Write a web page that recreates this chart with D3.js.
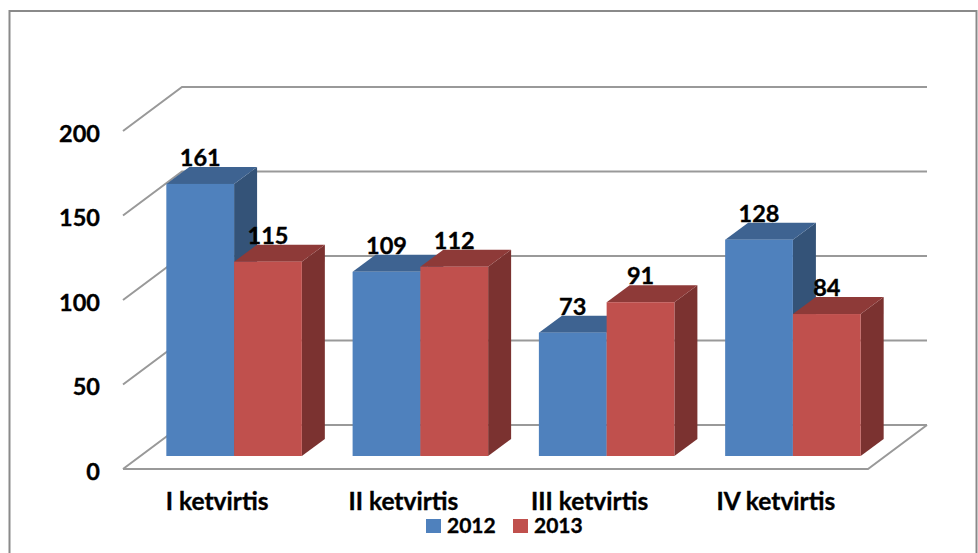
<!DOCTYPE html>
<html lang="lt">
<head>
  <meta charset="UTF-8">
  <title>Ketvirčiai</title>
  <script src="https://d3js.org/d3.v7.min.js"></script>
  <style>
    * { margin: 0; padding: 0; box-sizing: border-box; }
    body { background: white; overflow: hidden; }
    svg { display: block; }
    text { font-family: Lato, "Open Sans", sans-serif; font-weight: bold; fill: black; stroke: black; stroke-width: 0.35px; }
  </style>
</head>
<body>
  <div id="chart"></div>
  <script>
    const categories = ["I ketvirtis", "II ketvirtis", "III ketvirtis", "IV ketvirtis"];
    const seriesNames = ["2012", "2013"];
    const values2012 = [161, 109, 73, 128];
    const values2013 = [115, 112, 91, 84];
    const yTicks = [0, 50, 100, 150, 200];

    const width = 978, height = 553;
    const gridColor = "#999999";

    // 3d look: wall depth and bar depth
    const wallDx = 59, wallDy = 44;
    const barDx = 23, barDy = 17;

    const colors = {
      "2012": {front: "#4f81bd", top: "#3e6391", side: "#345378"},
      "2013": {front: "#c0504d", top: "#8e3a38", side: "#7b3230"}
    };

    const data = categories.map((c, i) => ({cat: c, v: [values2012[i], values2013[i]]}));

    const svg = d3.select("#chart").append("svg")
      .attr("width", width)
      .attr("height", height);

    // outer frame, bottom runs off the picture
    svg.append("rect")
      .attr("x", 9.5).attr("y", 11)
      .attr("width", 967).attr("height", 560)
      .attr("fill", "white")
      .attr("stroke", "#8a8a8a")
      .attr("stroke-width", 2);

    const yAxisScale = d3.scaleLinear().domain([0, 200]).range([469, 131]);
    const yBar = d3.scaleLinear().domain([0, 200]).range([456, 118]);

    const xLabels = d3.scaleBand().domain(categories).range([123, 868]);
    const xGroup = d3.scaleBand().domain(categories).range([141, 886])
      .paddingInner(0.2725).paddingOuter(0.136);
    const xBar = d3.scaleBand().domain(seriesNames).range([0, xGroup.bandwidth()]);

    // walls
    const grid = svg.append("g").attr("fill", "none").attr("stroke", gridColor).attr("stroke-width", 2);
    yTicks.forEach(t => {
      const y = yAxisScale(t);
      grid.append("path")
        .attr("d", d3.line()([[123, y], [123 + wallDx, y - wallDy], [868 + wallDx, y - wallDy]]));
    });
    grid.append("path")
      .attr("d", d3.line()([[123, yAxisScale(0)], [868, yAxisScale(0)], [868 + wallDx, yAxisScale(0) - wallDy]]));

    // bars
    const groups = svg.selectAll(".group")
      .data(data)
      .enter()
      .append("g")
      .attr("class", "group")
      .attr("transform", d => `translate(${xGroup(d.cat)},0)`);

    groups.each(function(d) {
      const g = d3.select(this);
      seriesNames.forEach((s, i) => {
        const x0 = xBar(s), x1 = x0 + xBar.bandwidth();
        const top = yBar(d.v[i]), base = yBar(0);
        g.append("path")
          .attr("fill", colors[s].side)
          .attr("d", d3.line()([[x1, top], [x1 + barDx, top - barDy], [x1 + barDx, base - barDy], [x1, base]]) + "Z");
        g.append("path")
          .attr("fill", colors[s].top)
          .attr("d", d3.line()([[x0, top], [x0 + barDx, top - barDy], [x1 + barDx, top - barDy], [x1, top]]) + "Z");
        g.append("rect")
          .attr("x", x0)
          .attr("y", top)
          .attr("width", xBar.bandwidth())
          .attr("height", base - top)
          .attr("fill", colors[s].front);
      });
    });

    // value labels
    groups.each(function(d) {
      const g = d3.select(this);
      seriesNames.forEach((s, i) => {
        g.append("text")
          .attr("x", xBar(s) + xBar.bandwidth() / 2)
          .attr("y", yBar(d.v[i]) - barDy - 1)
          .attr("text-anchor", "middle")
          .style("font-size", "23.5px")
          .text(d.v[i]);
      });
    });

    // axes
    const yAxis = svg.append("g")
      .attr("transform", "translate(123,2.5)")
      .call(d3.axisLeft(yAxisScale).tickValues(yTicks).tickSize(0).tickPadding(23));
    yAxis.select(".domain").remove();
    yAxis.selectAll("text")
      .attr("fill", "black")
      .style("font-size", "23.5px")
      .style("font-family", "Lato")
      .style("font-weight", "bold");

    const xAxis = svg.append("g")
      .attr("transform", "translate(1,469)")
      .call(d3.axisBottom(xLabels).tickSize(0).tickPadding(24));
    xAxis.select(".domain").remove();
    xAxis.selectAll("text")
      .attr("fill", "black")
      .style("font-size", "24.5px")
      .style("font-family", "Lato")
      .style("font-weight", "bold");

    // legend
    const legend = svg.append("g").attr("transform", "translate(426,519)");
    seriesNames.forEach((s, i) => {
      const row = legend.append("g").attr("transform", `translate(${i * 87},0)`);
      row.append("rect").attr("width", 15).attr("height", 14).attr("fill", colors[s].front);
      row.append("text")
        .attr("x", 21).attr("y", 14)
        .style("font-size", "21px")
        .text(s);
    });
  </script>
</body>
</html>
